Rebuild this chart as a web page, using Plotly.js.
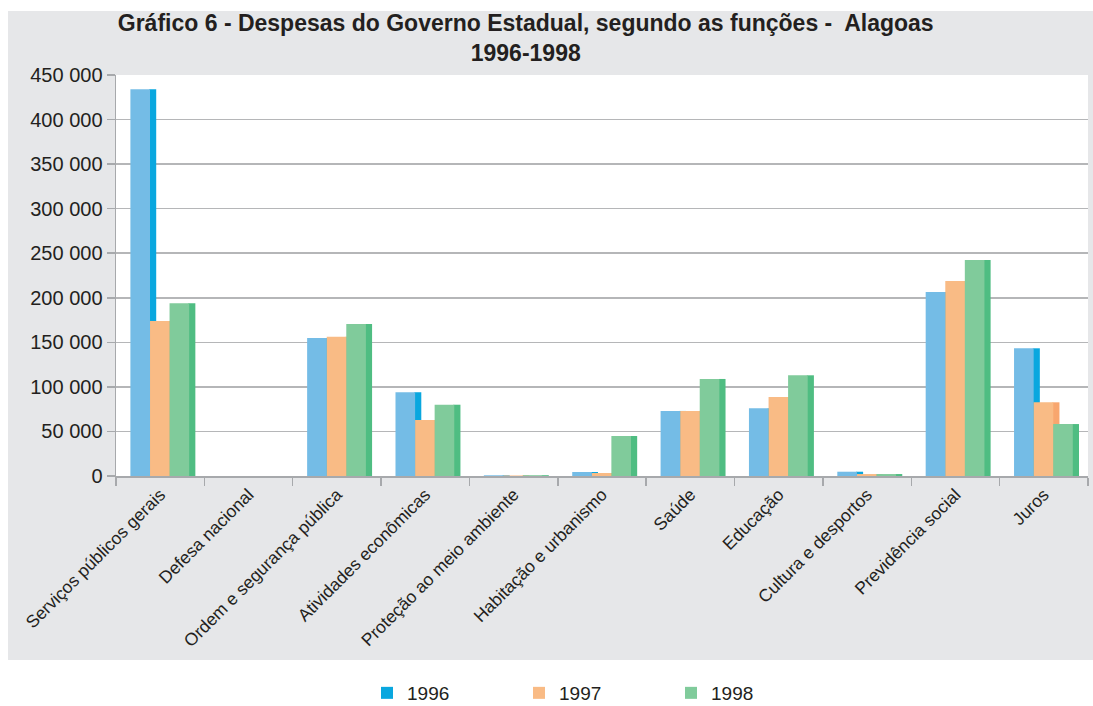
<!DOCTYPE html>
<html>
<head>
<meta charset="utf-8">
<script src="https://cdn.plot.ly/plotly-3.0.1.min.js"></script>
<style>html,body{margin:0;padding:0;background:#fff;}#chart{width:1093px;height:706px;}</style>
</head>
<body>
<div id="chart"></div>
<script>
const categories = ["Serviços públicos gerais","Defesa nacional","Ordem e segurança pública","Atividades econômicas","Proteção ao meio ambiente","Habitação e urbanismo","Saúde","Educação","Cultura e desportos","Previdência social","Juros"];
const years = ["1996","1997","1998"];
const values1996 = [434000, 0, 155000, 94000, 800, 4500, 73000, 76000, 4800, 206500, 143300];
const values1997 = [174000, 0, 156300, 62800, 600, 3400, 73000, 88700, 2200, 218800, 82700];
const values1998 = [193800, 0, 170600, 80000, 900, 44900, 108900, 113000, 2200, 242400, 58300];
const yTickVals = [0, 50000, 100000, 150000, 200000, 250000, 300000, 350000, 400000, 450000];
const yTickText = ["0","50 000","100 000","150 000","200 000","250 000","300 000","350 000","400 000","450 000"];

const series = [values1996, values1997, values1998];
const frontColors = ["#74bce6", "#f9bb85", "#80cb9b"];
const sideColors = ["#09a7df", "#f8a66e", "#4fbd82"];
const legendColors = ["#09a7df", "#f9bb85", "#80cb9b"];
const offsets = [-0.337, -0.115, 0.106];
const barW = 0.222;
const sideW = 0.07;

const traces = [];
series.forEach((vals, i) => {
  traces.push({
    type: "bar", x: categories, y: vals, showlegend: false, hoverinfo: "skip",
    offset: offsets[i] + barW - 0.01, width: sideW + 0.01,
    marker: {color: sideColors[i], line: {width: 0}}
  });
  traces.push({
    type: "bar", x: categories, y: vals, name: years[i], showlegend: false,
    offset: offsets[i], width: barW,
    marker: {color: frontColors[i], line: {width: 0}}
  });
});
// legend entries with the saturated legend colours
years.forEach((yr, i) => {
  traces.push({type: "bar", x: [categories[0]], y: [null], name: yr, showlegend: true,
    marker: {color: legendColors[i]}});
});

const FONT = "Liberation Sans, Arial, sans-serif";
// plot area: x 116..1088, y 75..476
const pxX = p => (p - 116) / 972;
const pxY = p => (476 - p) / 401;

const layout = {
  width: 1093, height: 706,
  margin: {l: 116, r: 5, t: 75, b: 230},
  paper_bgcolor: "#e6e7e9",
  plot_bgcolor: "#ffffff",
  barmode: "overlay",
  font: {family: FONT, color: "#231f20"},
  title: {
    text: "<b>Gráfico 6 - Despesas do Governo Estadual, segundo as funções -  Alagoas<br>1996-1998</b>",
    font: {family: FONT, size: 23, color: "#231f20"},
    x: 0.481, xanchor: "center", xref: "container",
    y: 0.956, yanchor: "top", yref: "container"
  },
  xaxis: {
    type: "category",
    tickangle: -45,
    tickfont: {size: 17.5, color: "#231f20"},
    ticks: "outside", tickson: "boundaries", ticklen: 8, tickcolor: "#a7a9ac", tickwidth: 1.5,
    showline: true, linecolor: "#a7a9ac", linewidth: 1.5,
    showgrid: false, fixedrange: true
  },
  yaxis: {
    range: [0, 450000],
    tickvals: yTickVals, ticktext: yTickText,
    tickfont: {size: 20, color: "#231f20"},
    ticks: "outside", ticklen: 8, tickcolor: "#a7a9ac", tickwidth: 1.5,
    showline: true, linecolor: "#a7a9ac", linewidth: 1.5,
    showgrid: true, gridcolor: "#b5b6b8", gridwidth: 1.5,
    zeroline: false, fixedrange: true
  },
  legend: {
    orientation: "h",
    xref: "container", yref: "container",
    x: 367 / 1093, xanchor: "left",
    y: (706 - 674) / 706, yanchor: "top",
    font: {size: 19, color: "#231f20"},
    bgcolor: "rgba(0,0,0,0)",
    entrywidth: 107, entrywidthmode: "pixels",
    traceorder: "normal"
  },
  shapes: [
    {type: "rect", xref: "paper", yref: "paper", layer: "below", x0: pxX(-5), x1: pxX(1100), y0: pxY(660), y1: pxY(712), fillcolor: "#ffffff", line: {width: 0}},
    {type: "rect", xref: "paper", yref: "paper", layer: "below", x0: pxX(-5), x1: pxX(1100), y0: pxY(11), y1: pxY(-5), fillcolor: "#ffffff", line: {width: 0}},
    {type: "rect", xref: "paper", yref: "paper", layer: "below", x0: pxX(-5), x1: pxX(8), y0: pxY(712), y1: pxY(-5), fillcolor: "#ffffff", line: {width: 0}}
  ],
  showlegend: true
};

Plotly.newPlot("chart", traces, layout, {displayModeBar: false, staticPlot: true});
</script>
</body>
</html>
